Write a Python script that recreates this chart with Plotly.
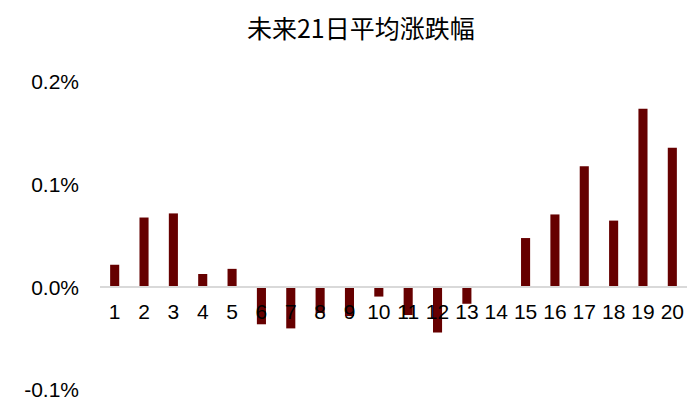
import plotly.graph_objects as go

# 未来21日平均涨跌幅 (values in fraction, i.e. 0.001 = 0.1%)
days = [str(i) for i in range(1, 21)]
avg_change = [0.00022, 0.00068, 0.00072, 0.00013, 0.00018,
              -0.00036, -0.00040, -0.00025, -0.00028, -0.00009,
              -0.00027, -0.00044, -0.00016, 0.000005, 0.00048,
              0.00071, 0.00118, 0.00065, 0.00174, 0.00136]

tick_vals = [-0.001, 0.0, 0.001, 0.002]
tick_text = ["-0.1%", "0.0%", "0.1%", "0.2%"]

y_min, y_max = -0.001, 0.002
# where the zero line sits inside the plot area
zero_pos = (0 - y_min) / (y_max - y_min)

fig = go.Figure()
fig.add_trace(go.Bar(x=days, y=avg_change, marker_color="#660000",
                     marker_line_width=0))

fig.update_layout(
    width=700, height=413,
    margin=dict(l=92, r=21, t=74, b=31),
    paper_bgcolor="white", plot_bgcolor="white",
    bargap=0.69,
    showlegend=False,
    font=dict(family="Liberation Sans Narrow, Liberation Sans, Arial", size=21, color="black"),
    title=dict(text="未来21日平均涨跌幅", x=0.504, y=0.949, xanchor="center", yanchor="middle",
               font=dict(family="Noto Sans CJK SC", size=25, color="black")),
)
fig.update_xaxes(type="category", anchor="free", position=zero_pos,
                 showline=True, linecolor="#D9D9D9", linewidth=1.5,
                 showgrid=False, ticks="", ticklabelstandoff=6)
fig.update_yaxes(range=[y_min, y_max], tickvals=tick_vals, ticktext=tick_text,
                 showgrid=False, zeroline=False, showline=False,
                 ticks="", ticklabelstandoff=20)

fig.write_html("out.html")
